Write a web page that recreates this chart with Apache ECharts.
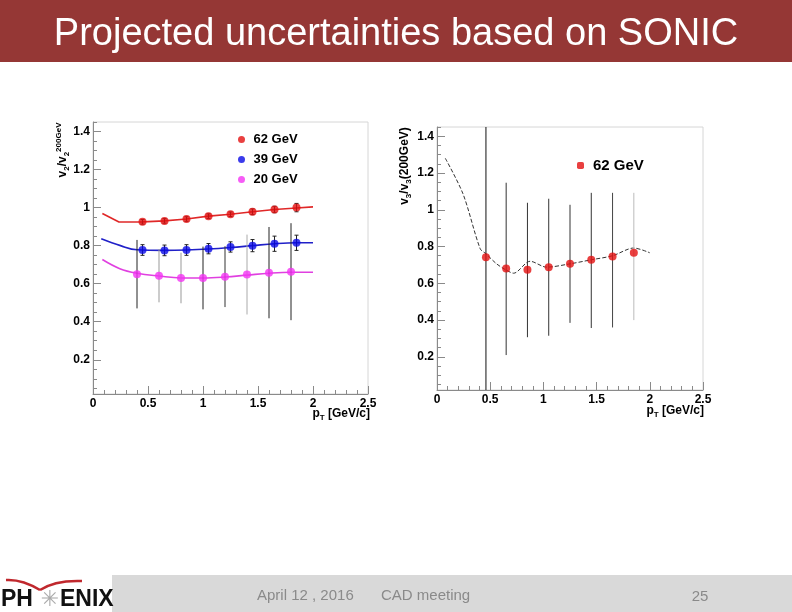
<!DOCTYPE html>
<html><head><meta charset="utf-8">
<script src="https://cdn.jsdelivr.net/npm/echarts@6/dist/echarts.min.js"></script>
<style>html,body{margin:0;padding:0;background:#fff}#c{width:792px;height:612px}</style>
</head><body><div id="c"></div>
<script>
// ---- Left panel: v2 ratio ----
const ptA = [0.45, 0.65, 0.85, 1.05, 1.25, 1.45, 1.65, 1.85];
const v2_62 = [0.925, 0.93, 0.94, 0.955, 0.965, 0.978, 0.99, 1.0];
const v2_62err = [0.012, 0.012, 0.012, 0.012, 0.012, 0.015, 0.017, 0.022];
const v2_39 = [0.777, 0.775, 0.777, 0.784, 0.793, 0.8, 0.81, 0.815];
const v2_39err = [0.028, 0.028, 0.028, 0.027, 0.027, 0.032, 0.04, 0.04];
const ptB = [0.4, 0.6, 0.8, 1.0, 1.2, 1.4, 1.6, 1.8];
const v2_20 = [0.65, 0.642, 0.63, 0.63, 0.637, 0.648, 0.658, 0.663];
const v2_20err = [0.18, 0.14, 0.133, 0.165, 0.16, 0.21, 0.24, 0.255];
// model curves (left)
const c62x = [0.085, 0.236, 0.45, 0.65, 0.85, 1.05, 1.25, 1.45, 1.65, 1.85, 2.0];
const c62y = [0.969, 0.924, 0.925, 0.93, 0.94, 0.955, 0.965, 0.978, 0.99, 0.998, 1.004];
const c39x = [0.075, 0.25, 0.4, 0.65, 0.85, 1.05, 1.25, 1.45, 1.65, 1.85, 2.0];
const c39y = [0.836, 0.8, 0.778, 0.775, 0.777, 0.782, 0.79, 0.8, 0.81, 0.815, 0.815];
const c20x = [0.085, 0.244, 0.4, 0.6, 0.8, 1.0, 1.2, 1.4, 1.6, 1.8, 2.0];
const c20y = [0.727, 0.679, 0.655, 0.64, 0.63, 0.63, 0.635, 0.645, 0.655, 0.66, 0.66];
// ---- Right panel: v3 ratio ----
const ptC = [0.46, 0.65, 0.85, 1.05, 1.25, 1.45, 1.65, 1.85];
const v3_62 = [0.742, 0.68, 0.674, 0.688, 0.706, 0.728, 0.746, 0.766];
const v3_lo = [0.0, 0.21, 0.307, 0.315, 0.385, 0.357, 0.36, 0.4];
const v3_hi = [1.5, 1.147, 1.038, 1.06, 1.027, 1.092, 1.092, 1.092];
const c3x = [0.078, 0.244, 0.406, 0.46, 0.56, 0.65, 0.72, 0.875, 1.03, 1.25, 1.45, 1.65, 1.85, 2.0];
const c3y = [1.28, 1.087, 0.788, 0.761, 0.706, 0.672, 0.655, 0.72, 0.688, 0.706, 0.728, 0.75, 0.792, 0.766];
// ticks
const yMajor = [0.2, 0.4, 0.6, 0.8, 1, 1.2, 1.4];
const yMinor = [0.05, 0.1, 0.15, 0.25, 0.3, 0.35, 0.45, 0.5, 0.55, 0.65, 0.7, 0.75, 0.85, 0.9, 0.95, 1.05, 1.1, 1.15, 1.25, 1.3, 1.35, 1.45];

const zip = (xs, ys) => xs.map((x, i) => [x, ys[i]]);
const FONT = 'Liberation Sans, Arial, sans-serif';
const AX = '#8a8a8a';

function xAxisCfg(gi) {
  return {
    gridIndex: gi, type: 'value', min: 0, max: 2.5, interval: 0.5, position: 'bottom',
    axisLine: { show: true, onZero: false, lineStyle: { color: AX, width: 1 } },
    axisTick: { show: true, inside: true, length: 8, lineStyle: { color: AX } },
    minorTick: { show: true, splitNumber: 5, length: 4, lineStyle: { color: AX } },
    splitLine: { show: false },
    axisLabel: { margin: 4, color: '#000', fontWeight: 'bold', fontSize: 12, fontFamily: FONT }
  };
}
function yAxisMajor(gi) {
  return {
    gridIndex: gi, type: 'value', min: 0.02, max: 1.45, position: 'left', offset: 0,
    axisLine: { show: true, onZero: false, lineStyle: { color: AX, width: 1 } },
    axisTick: { show: true, inside: true, length: 8, customValues: yMajor, lineStyle: { color: AX } },
    splitLine: { show: false },
    axisLabel: { margin: 3, customValues: yMajor, color: '#000', fontWeight: 'bold', fontSize: 12, fontFamily: FONT,
      formatter: v => String(+v.toFixed(2)) }
  };
}
function yAxisMinor(gi) {
  return {
    gridIndex: gi, type: 'value', min: 0.02, max: 1.45, position: 'left', offset: 0,
    axisLine: { show: false },
    axisTick: { show: true, inside: true, length: 4, customValues: yMinor, lineStyle: { color: AX } },
    splitLine: { show: false },
    axisLabel: { show: false }
  };
}
function errSeries(name, gi, xs, lo, hi, colors, cap) {
  return {
    type: 'custom', name: name, xAxisIndex: gi, yAxisIndex: gi * 2, clip: true, z: 3, silent: true,
    data: xs.map((x, i) => [x, lo[i], hi[i], i]),
    encode: { x: 0, y: [1, 2] },
    renderItem: function (params, api) {
      const x = api.value(0);
      const a = api.coord([x, api.value(1)]);
      const b = api.coord([x, api.value(2)]);
      const col = colors[api.value(3)];
      const ch = [{ type: 'line', shape: { x1: a[0], y1: a[1], x2: b[0], y2: b[1] }, style: { stroke: col, lineWidth: 1 } }];
      if (cap) {
        ch.push({ type: 'line', shape: { x1: a[0] - cap, y1: a[1], x2: a[0] + cap, y2: a[1] }, style: { stroke: col, lineWidth: 1 } });
        ch.push({ type: 'line', shape: { x1: b[0] - cap, y1: b[1], x2: b[0] + cap, y2: b[1] }, style: { stroke: col, lineWidth: 1 } });
      }
      return { type: 'group', children: ch };
    }
  };
}
const RED = '#e41010', BLUE = '#0a0ae6', MAG = '#f433f4';
const lo = (v, e) => v.map((x, i) => x - e[i]);
const hi = (v, e) => v.map((x, i) => x + e[i]);

const series = [
  { type: 'line', name: 'c62', xAxisIndex: 0, yAxisIndex: 0, data: zip(c62x, c62y), showSymbol: false, smooth: false, lineStyle: { color: '#e02828', width: 1.6 }, z: 2, silent: true },
  { type: 'line', name: 'c39', xAxisIndex: 0, yAxisIndex: 0, data: zip(c39x, c39y), showSymbol: false, smooth: 0.4, lineStyle: { color: '#2020c8', width: 1.6 }, z: 2, silent: true },
  { type: 'line', name: 'c20', xAxisIndex: 0, yAxisIndex: 0, data: zip(c20x, c20y), showSymbol: false, smooth: 0.4, lineStyle: { color: '#e040e0', width: 1.6 }, z: 2, silent: true },
  errSeries('e20', 0, ptB, lo(v2_20, v2_20err), hi(v2_20, v2_20err), ['#222', '#999', '#999', '#222', '#333', '#aaa', '#222', '#222'], 0),
  errSeries('e39', 0, ptA, lo(v2_39, v2_39err), hi(v2_39, v2_39err), ptA.map(() => '#222'), 2),
  errSeries('e62', 0, ptA, lo(v2_62, v2_62err), hi(v2_62, v2_62err), ptA.map(() => '#222'), 2),
  { type: 'scatter', name: '62 GeV', xAxisIndex: 0, yAxisIndex: 0, data: zip(ptA, v2_62), symbol: 'circle', symbolSize: 8, itemStyle: { color: RED }, z: 5 },
  { type: 'scatter', name: '39 GeV', xAxisIndex: 0, yAxisIndex: 0, data: zip(ptA, v2_39), symbol: 'circle', symbolSize: 8, itemStyle: { color: BLUE }, z: 5 },
  { type: 'scatter', name: '20 GeV', xAxisIndex: 0, yAxisIndex: 0, data: zip(ptB, v2_20), symbol: 'circle', symbolSize: 8, itemStyle: { color: MAG }, z: 5 },
  { type: 'line', name: 'c3', xAxisIndex: 1, yAxisIndex: 2, data: zip(c3x, c3y), showSymbol: false, smooth: 0.3, lineStyle: { color: '#333', width: 1, type: [4, 2] }, z: 2, silent: true },
  errSeries('e3', 1, ptC, v3_lo, v3_hi, ['#111', '#333', '#333', '#333', '#333', '#333', '#444', '#bbb'], 0),
  { type: 'scatter', name: '62 GeV', xAxisIndex: 1, yAxisIndex: 2, data: zip(ptC, v3_62), symbol: 'circle', symbolSize: 8, itemStyle: { color: RED }, z: 5 }
];

const sub = { fontSize: 8, fontWeight: 'bold', fontFamily: FONT, fill: '#000', verticalAlign: 'bottom', lineHeight: 8 };
const main = { fontSize: 12, fontWeight: 'bold', fontFamily: FONT, fill: '#000', lineHeight: 16 };
const sup = { fontSize: 8, fontWeight: 'bold', fontFamily: FONT, fill: '#000', verticalAlign: 'top', lineHeight: 8 };

const graphic = [
  { type: 'rect', shape: { x: 0, y: 0, width: 792, height: 62 }, style: { fill: '#953735' }, z: 0 },
  { type: 'text', style: { text: 'Projected uncertainties based on SONIC', x: 396, y: 35, align: 'center', verticalAlign: 'middle', fill: '#fff', font: '38px Liberation Sans, Arial, sans-serif' } },
  { type: 'rect', shape: { x: 0, y: 575, width: 792, height: 37 }, style: { fill: '#d9d9d9' } },
  { type: 'rect', shape: { x: 0, y: 575, width: 112, height: 37 }, style: { fill: '#fff' } },
  { type: 'text', style: { text: 'April 12 , 2016', x: 257, y: 596, verticalAlign: 'middle', fill: '#8a8a8a', font: '15px Liberation Sans, Arial, sans-serif' } },
  { type: 'text', style: { text: 'CAD meeting', x: 381, y: 596, verticalAlign: 'middle', fill: '#8a8a8a', font: '15px Liberation Sans, Arial, sans-serif' } },
  { type: 'text', style: { text: '25', x: 700, y: 597, align: 'center', verticalAlign: 'middle', fill: '#8a8a8a', font: '15px Liberation Sans, Arial, sans-serif' } },
  // PHENIX logo
  { type: 'text', style: { text: 'PH', x: 1, y: 600, verticalAlign: 'middle', fill: '#111', font: 'bold 23px Liberation Sans, Arial, sans-serif' } },
  { type: 'text', style: { text: 'ENIX', x: 60, y: 600, verticalAlign: 'middle', fill: '#111', font: 'bold 23px Liberation Sans, Arial, sans-serif' } },
  { type: 'text', style: { text: '✳', x: 50, y: 600, align: 'center', verticalAlign: 'middle', fill: '#aaa', font: '22px DejaVu Sans, sans-serif' } },
  { type: 'bezierCurve', shape: { x1: 6, y1: 580, x2: 40, y2: 590, cpx1: 22, cpy1: 579 }, style: { stroke: '#c0282d', lineWidth: 2.5, fill: 'none' } },
  { type: 'bezierCurve', shape: { x1: 40, y1: 590, x2: 82, y2: 581, cpx1: 55, cpy1: 580 }, style: { stroke: '#c0282d', lineWidth: 2.5, fill: 'none' } },
  // axis titles
  { type: 'text', style: { text: '{m|p}{s|T}{m| [GeV/c]}', x: 370, y: 414, align: 'right', verticalAlign: 'middle', rich: { m: main, s: sub } } },
  { type: 'text', style: { text: '{m|p}{s|T}{m| [GeV/c]}', x: 704, y: 411, align: 'right', verticalAlign: 'middle', rich: { m: main, s: sub } } },
  { type: 'text', x: 63, y: 150, rotation: Math.PI / 2, style: { text: '{m|v}{s|2}{m|/v}{s|2}{u|200GeV}', x: 0, y: 0, align: 'center', verticalAlign: 'middle', rich: { m: main, s: sub, u: sup } } },
  { type: 'text', x: 405, y: 166, rotation: Math.PI / 2, style: { text: '{m|v}{s|3}{m|/v}{s|3}{m|(200GeV)}', x: 0, y: 0, align: 'center', verticalAlign: 'middle', rich: { m: main, s: sub } } }
];

const option = {
  backgroundColor: '#fff',
  animation: false,
  grid: [
    { left: 93, top: 122, width: 275, height: 272, show: true, borderColor: '#d6d6d6', borderWidth: 1, backgroundColor: 'transparent' },
    { left: 437, top: 127, width: 266, height: 263, show: true, borderColor: '#d6d6d6', borderWidth: 1, backgroundColor: 'transparent' }
  ],
  xAxis: [xAxisCfg(0), xAxisCfg(1)],
  yAxis: [yAxisMajor(0), yAxisMinor(0), yAxisMajor(1), yAxisMinor(1)],
  legend: [
    { data: [{ name: '62 GeV', icon: 'circle' }, { name: '39 GeV', icon: 'circle' }, { name: '20 GeV', icon: 'circle' }],
      orient: 'vertical', left: 233, top: 128, itemWidth: 14, itemHeight: 7, itemGap: 7, selectedMode: false,
      textStyle: { fontWeight: 'bold', fontSize: 13, fontFamily: FONT, color: '#000' } },
    { data: [{ name: '62 GeV', icon: 'roundRect' }],
      orient: 'vertical', left: 572, top: 153, itemWidth: 7, itemHeight: 7, selectedMode: false,
      textStyle: { fontWeight: 'bold', fontSize: 15, fontFamily: FONT, color: '#000', padding: [0, 0, 0, 4] } }
  ],
  series: series,
  graphic: graphic
};
const chart = echarts.init(document.getElementById('c'), null, { renderer: 'canvas' });
chart.setOption(option);
</script>
</body></html>
